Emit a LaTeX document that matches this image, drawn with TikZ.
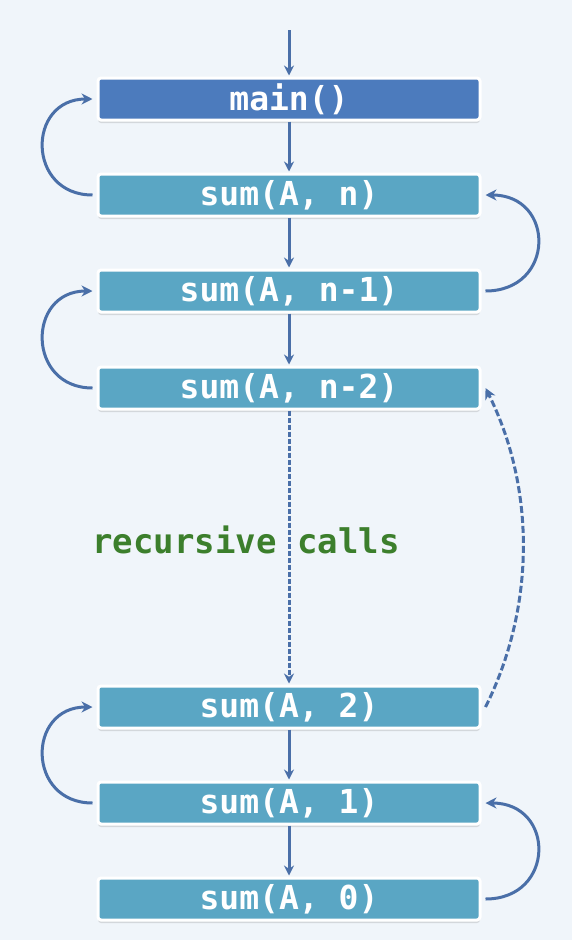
\documentclass[tikz,border=0pt]{standalone}
\usepackage{fontspec}
\setmonofont{DejaVu Sans Mono}
\usetikzlibrary{arrows.meta,shadows}
\definecolor{bgc}{HTML}{F0F5FA}
\definecolor{mainc}{HTML}{4C7BBD}
\definecolor{sumc}{HTML}{5AA6C4}
\definecolor{arrc}{HTML}{4A6FA8}
\definecolor{greenc}{HTML}{3C7F2C}
\tikzset{
  callbox/.style={rectangle, rounded corners=3pt, draw=white, line width=3pt,
    minimum width=382pt, minimum height=42pt, inner sep=0pt,
    text=white, font=\ttfamily\bfseries\fontsize{33}{38}\selectfont,
    drop shadow={shadow xshift=0pt, shadow yshift=-3pt, opacity=0.25}},
  mainbox/.style={callbox, fill=mainc},
  sumbox/.style={callbox, fill=sumc},
  flow/.style={draw=arrc, line width=3pt, -{Stealth[length=10pt,width=10pt]}, shorten >=1pt},
  ret/.style={draw=arrc, line width=3pt, -{Stealth[length=11pt,width=11pt]}},
  dashflow/.style={flow, dash pattern=on 5pt off 2pt},
  dashret/.style={ret, dash pattern=on 7pt off 3pt}
}
\begin{document}
\begin{tikzpicture}[x=1pt,y=-1pt]
\fill[bgc] (0,0) rectangle (572,940);
\useasboundingbox (0,0) rectangle (572,940);
\node[mainbox] (main) at (289,99) {main()};
\node[sumbox] (sn) at (289,195) {sum(A, n)};
\node[sumbox] (sn1) at (289,291) {sum(A, n-1)};
\node[sumbox] (sn2) at (289,388) {sum(A, n-2)};
\node[sumbox] (s2) at (289,707) {sum(A, 2)};
\node[sumbox] (s1) at (289,803) {sum(A, 1)};
\node[sumbox] (s0) at (289,899) {sum(A, 0)};
\node[text=greenc, font=\ttfamily\bfseries\fontsize{34}{40}\selectfont] (rc) at (246,540) {recursive calls};
\coordinate (top) at (289,30);
% downward calls
\draw[flow] (top) -- (main.north);
\draw[flow] (main.south) -- (sn.north);
\draw[flow] (sn.south) -- (sn1.north);
\draw[flow] (sn1.south) -- (sn2.north);
\draw[dashflow] (sn2.south) -- (s2.north);
\draw[flow] (s2.south) -- (s1.north);
\draw[flow] (s1.south) -- (s0.north);
% returns
\draw[ret] ([xshift=-4pt]sn.west) .. controls +(-66,0) and +(-66,0) .. ([xshift=-4pt]main.west);
\draw[ret] ([xshift=4pt]sn1.east) .. controls +(70,0) and +(70,0) .. ([xshift=4pt]sn.east);
\draw[ret] ([xshift=-4pt]sn2.west) .. controls +(-66,0) and +(-66,0) .. ([xshift=-4pt]sn1.west);
\draw[dashret] ([xshift=4pt]s2.east) .. controls +(50,-100) and +(50,100) .. ([xshift=4pt]sn2.east);
\draw[ret] ([xshift=-4pt]s1.west) .. controls +(-66,0) and +(-66,0) .. ([xshift=-4pt]s2.west);
\draw[ret] ([xshift=4pt]s0.east) .. controls +(70,0) and +(70,0) .. ([xshift=4pt]s1.east);
\end{tikzpicture}
\end{document}
